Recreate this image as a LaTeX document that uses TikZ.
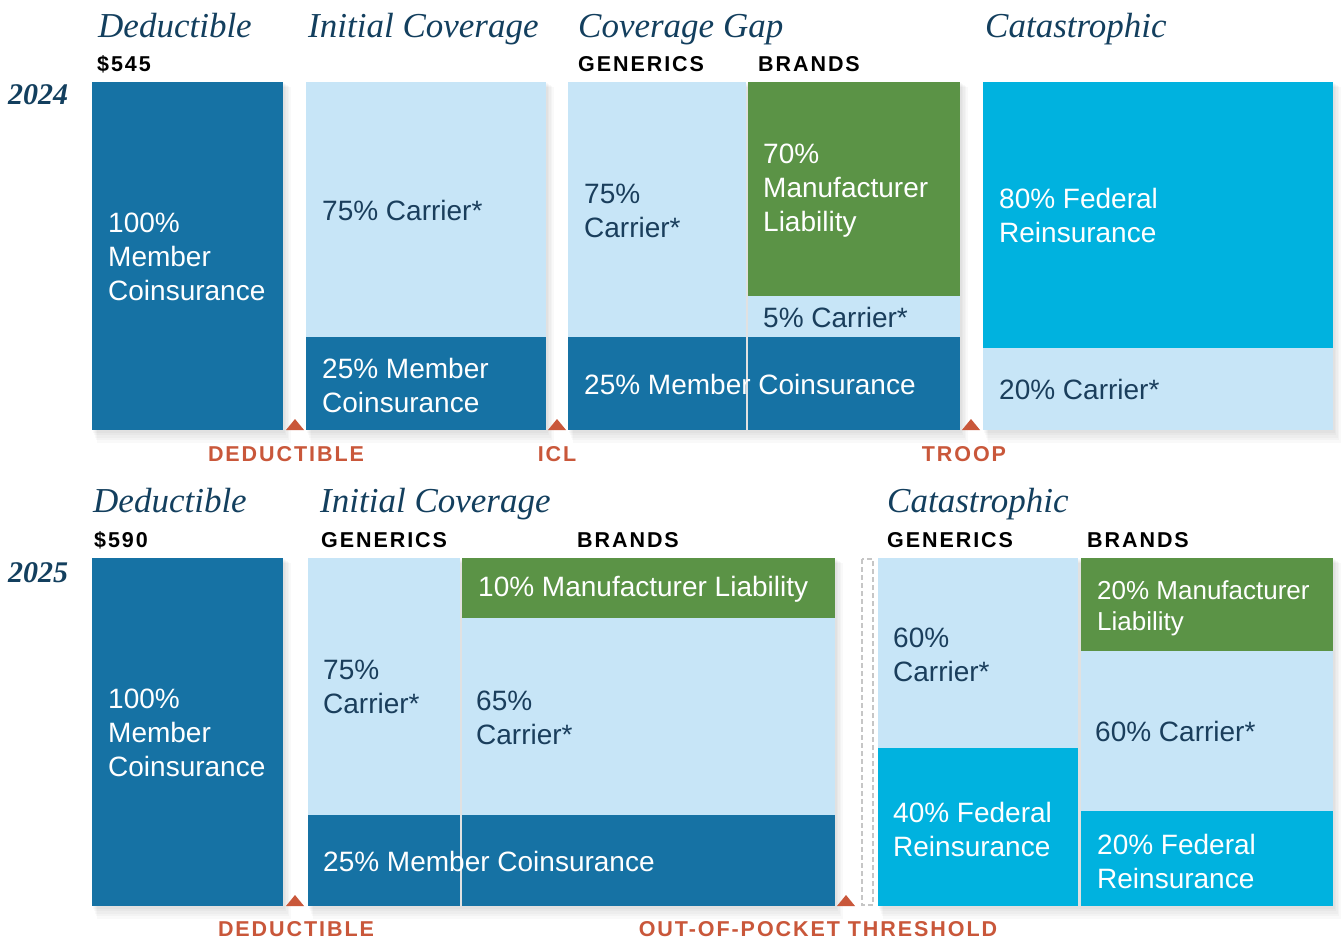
\documentclass[tikz,border=0pt]{standalone}
\usepackage{fontspec}
\setmainfont{Liberation Serif}
\setsansfont{Liberation Sans}
\newfontfamily\capfont{Liberation Sans}[LetterSpace=9]
\definecolor{dkblue}{HTML}{1672A4}
\definecolor{ltblue}{HTML}{C7E5F7}
\definecolor{mgreen}{HTML}{5B9346}
\definecolor{cyanb}{HTML}{00B2DF}
\definecolor{tri}{HTML}{C9573A}
\definecolor{navy}{HTML}{133F5E}
\definecolor{boxnavy}{HTML}{1A3E5C}
\newcommand{\shbox}[4]{%
  \foreach \k in {1,...,5}{\fill[black,opacity=0.025] (#1+\k,#2+\k) rectangle (#3+1.6*\k,#4+2.6*\k);}}
\begin{document}
\begin{tikzpicture}[x=1pt,y=-1pt,
  txt/.style={anchor=west,align=left,inner sep=0pt,font=\sffamily\fontsize{28}{34}\selectfont},
  wtxt/.style={txt,text=white},
  ntxt/.style={txt,text=boxnavy},
  head/.style={anchor=base west,inner sep=0pt,text=navy,font=\itshape\fontsize{35}{40}\selectfont},
  sub/.style={anchor=base west,inner sep=0pt,text=black,font=\capfont\bfseries\fontsize{21.5}{24}\selectfont},
  thr/.style={anchor=base,inner sep=0pt,text=tri,font=\capfont\bfseries\fontsize{21.5}{24}\selectfont},
  yr/.style={anchor=base west,inner sep=0pt,text=navy,font=\bfseries\itshape\fontsize{30}{34}\selectfont},
  trimark/.style={fill=tri}]
\useasboundingbox (0,0) rectangle (1342,940);
\fill[white] (0,0) rectangle (1342,940);
% shadows
\shbox{92}{82}{283}{430}
\shbox{306}{82}{546}{430}
\shbox{568}{82}{960}{430}
\shbox{983}{82}{1333}{430}
\shbox{92}{558}{283}{906}
\shbox{308}{558}{835}{906}
\shbox{878}{558}{1333}{906}
% ---------- 2024 ----------
\node[yr] (y24) at (8,104) {2024};
\node[head] (h1) at (98,37) {Deductible};
\node[head] (h2) at (308,37) {Initial Coverage};
\node[head] (h3) at (578,37) {Coverage Gap};
\node[head] (h4) at (985,37) {Catastrophic};
\node[sub] (s1) at (97,71) {\$545};
\node[sub] (s2) at (578,71) {GENERICS};
\node[sub] (s3) at (758,71) {BRANDS};
\fill[dkblue] (92,82) rectangle (283,430);
\fill[ltblue] (306,82) rectangle (546,337);
\fill[dkblue] (306,337) rectangle (546,430);
\fill[ltblue] (568,82) rectangle (746,337);
\fill[mgreen] (748,82) rectangle (960,296);
\fill[ltblue] (748,296) rectangle (960,337);
\fill[dkblue] (568,337) rectangle (746,430);
\fill[dkblue] (748,337) rectangle (960,430);
\fill[cyanb] (983,82) rectangle (1333,348);
\fill[ltblue] (983,348) rectangle (1333,430);
\node[wtxt] (a1) at (108,257) {100\%\\Member\\Coinsurance};
\node[ntxt] (a2) at (322,210) {75\% Carrier*};
\node[wtxt] (a3) at (322,385) {25\% Member\\Coinsurance};
\node[ntxt] (a4) at (584,211) {75\%\\Carrier*};
\node[wtxt] (a5) at (763,191) {70\%\\Manufacturer\\Liability};
\node[ntxt] (a6) at (763,317) {5\% Carrier*};
\node[wtxt] (a7) at (584,384) {25\% Member Coinsurance};
\node[wtxt] (a8) at (999,215) {80\% Federal\\Reinsurance};
\node[ntxt] (a9) at (999,389) {20\% Carrier*};
\fill[trimark] (286,430) -- (295,419) -- (304,430) -- cycle;
\fill[trimark] (548,430) -- (557,419) -- (566,430) -- cycle;
\fill[trimark] (962,430) -- (971,419) -- (980,430) -- cycle;
\node[thr] (t1) at (286,461) {DEDUCTIBLE};
\node[thr] (t2) at (557,461) {ICL};
\node[thr] (t3) at (964,461) {TROOP};
% ---------- 2025 ----------
\node[yr] (y25) at (8,582) {2025};
\node[head] (g1) at (93,512) {Deductible};
\node[head] (g2) at (320,512) {Initial Coverage};
\node[head] (g3) at (887,512) {Catastrophic};
\node[sub] (u1) at (94,547) {\$590};
\node[sub] (u2) at (321,547) {GENERICS};
\node[sub] (u3) at (577,547) {BRANDS};
\node[sub] (u4) at (887,547) {GENERICS};
\node[sub] (u5) at (1087,547) {BRANDS};
\fill[dkblue] (92,558) rectangle (283,906);
\fill[ltblue] (308,558) rectangle (460,815);
\fill[mgreen] (462,558) rectangle (835,618);
\fill[ltblue] (462,618) rectangle (835,815);
\fill[dkblue] (308,815) rectangle (460,906);
\fill[dkblue] (462,815) rectangle (835,906);
\draw[gray!45,line width=1.2pt,dash pattern=on 5pt off 3pt] (862,559) rectangle (873,905);
\fill[ltblue] (878,558) rectangle (1078,748);
\fill[cyanb] (878,748) rectangle (1078,906);
\fill[mgreen] (1081,558) rectangle (1333,651);
\fill[ltblue] (1081,651) rectangle (1333,811);
\fill[cyanb] (1081,811) rectangle (1333,906);
\node[wtxt] (b1) at (108,733) {100\%\\Member\\Coinsurance};
\node[ntxt] (b2) at (323,687) {75\%\\Carrier*};
\node[wtxt] (b3) at (478,589) {10\% Manufacturer Liability};
\node[ntxt] (b4) at (476,718) {65\%\\Carrier*};
\node[wtxt] (b5) at (323,861) {25\% Member Coinsurance};
\node[ntxt] (b6) at (893,655) {60\%\\Carrier*};
\node[wtxt] (b7) at (893,829) {40\% Federal\\Reinsurance};
\node[wtxt,font=\sffamily\fontsize{26}{31}\selectfont] (b8) at (1097,608) {20\% Manufacturer\\Liability};
\node[ntxt] (b9) at (1095,731) {60\% Carrier*};
\node[wtxt] (b10) at (1097,861) {20\% Federal\\Reinsurance};
\fill[trimark] (286,906) -- (295,895) -- (304,906) -- cycle;
\fill[trimark] (837,906) -- (846,895) -- (855,906) -- cycle;
\node[thr] (t4) at (296,936.5) {DEDUCTIBLE};
\node[thr] (t5) at (818,936.5) {OUT-OF-POCKET THRESHOLD};
\end{tikzpicture}
\end{document}
